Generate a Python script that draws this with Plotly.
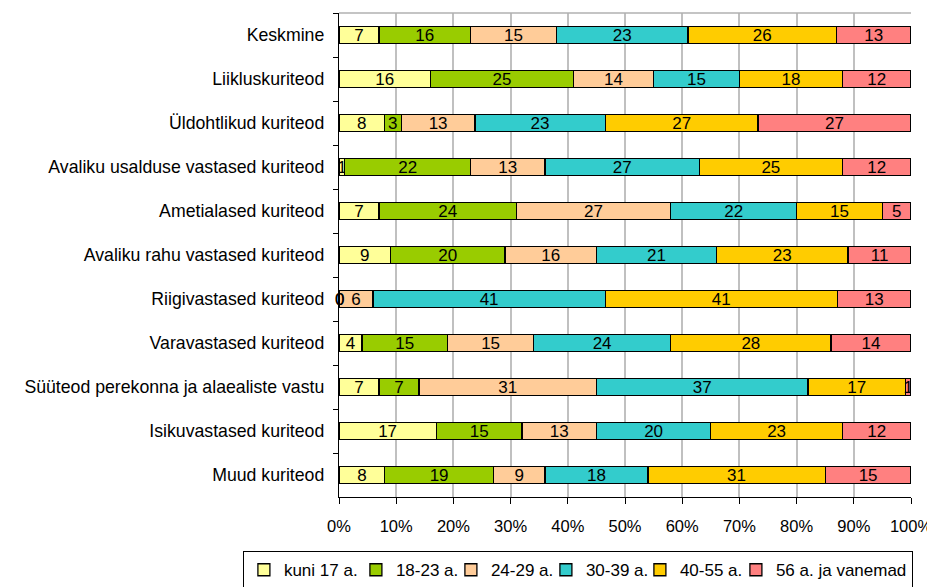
import plotly.graph_objects as go

# kategooriad ülevalt alla
categories = [
    "Keskmine",
    "Liikluskuriteod",
    "Üldohtlikud kuriteod",
    "Avaliku usalduse vastased kuriteod",
    "Ametialased kuriteod",
    "Avaliku rahu vastased kuriteod",
    "Riigivastased kuriteod",
    "Varavastased kuriteod",
    "Süüteod perekonna ja alaealiste vastu",
    "Isikuvastased kuriteod",
    "Muud kuriteod",
]

age_groups = ["kuni 17 a.", "18-23 a.", "24-29 a.", "30-39 a.", "40-55 a.", "56 a. ja vanemad"]

kuni17 = [7, 16, 8, 1, 7, 9, 0, 4, 7, 17, 8]
a18_23 = [16, 25, 3, 22, 24, 20, 0, 15, 7, 15, 19]
a24_29 = [15, 14, 13, 13, 27, 16, 6, 15, 31, 13, 9]
a30_39 = [23, 15, 23, 27, 22, 21, 41, 24, 37, 20, 18]
a40_55 = [26, 18, 27, 25, 15, 23, 41, 28, 17, 23, 31]
a56 = [13, 12, 27, 12, 5, 11, 13, 14, 1, 12, 15]

colors = ["#FFFF99", "#99CC00", "#FFCC99", "#33CCCC", "#FFCC00", "#FF8080"]
# legendi kirjete laius (px), viimane automaatne
legend_w = [67, 50, 50, 49, 51, 0]

series = [kuni17, a18_23, a24_29, a30_39, a40_55, a56]

fig = go.Figure()
for name, vals, col, lw in zip(age_groups, series, colors, legend_w):
    fig.add_trace(go.Bar(
        y=categories, x=vals, name=name, orientation="h",
        marker=dict(color=col, line=dict(color="black", width=1.3)),
        text=[str(v) if v > 0 else "" for v in vals],
        textposition="inside", insidetextanchor="middle", textangle=0,
        constraintext="none",
        textfont=dict(size=17, color="black"),
        legendwidth=lw if lw else None,
    ))
    # nullväärtuste sildid teljel
    for c, v in zip(categories, vals):
        if v == 0:
            fig.add_annotation(x=0, y=c, text="0", showarrow=False,
                               xanchor="center", font=dict(size=17, color="black"))

# lehe body-l on 8px veeris, seega nihutame varusid
fig.update_layout(
    barmode="stack", barnorm="percent", bargap=0.6,
    width=935, height=587,
    margin=dict(l=331, r=32, t=5, b=98),
    plot_bgcolor="white", paper_bgcolor="white",
    font=dict(family="Liberation Sans, Arial", size=17, color="black"),
    legend=dict(
        orientation="h", x=-0.168, y=-0.112, xanchor="left", yanchor="top",
        bordercolor="black", borderwidth=1, font=dict(size=17),
        traceorder="normal", itemwidth=30,
    ),
    shapes=[dict(type="line", xref="paper", yref="paper", x0=0, x1=1, y0=1, y1=1,
                 line=dict(color="#B0B0B0", width=1.5))],
)
fig.update_xaxes(
    range=[0, 100], dtick=10, ticksuffix="%",
    showgrid=True, gridcolor="#C0C0C0", gridwidth=1.5,
    showline=True, linecolor="black", linewidth=1.3,
    ticks="outside", ticklen=6, tickcolor="black",
    ticklabelstandoff=8, zeroline=False, automargin=False,
    tickfont=dict(size=16.5),
)
fig.update_yaxes(
    categoryorder="array", categoryarray=categories, autorange="reversed",
    showline=True, linecolor="black", linewidth=1.3,
    ticks="outside", ticklen=5, tickcolor="black", tickson="boundaries",
    ticklabelstandoff=10, showgrid=False, automargin=False,
    tickfont=dict(size=17.7),
)

fig.write_html("out.html")
